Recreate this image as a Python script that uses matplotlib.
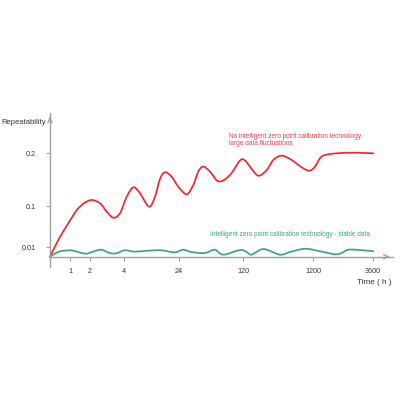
import numpy as np
import matplotlib
matplotlib.use("Agg")
import matplotlib.pyplot as plt
from matplotlib.path import Path
from matplotlib.patches import PathPatch

# time (h) and repeatability
red_t = [0, 0.415, 0.915, 1.415, 2.0, 2.583, 2.974, 3.359, 3.749, 4.88, 7.29,
         9.74, 13.03, 15.22, 17.05, 18.88, 21.33, 23.74, 35.5, 45.35,
         52.8, 60.3, 70.3, 83.7, 100.1, 115.1, 146.2, 223.4, 351.5, 481, 583,
         712.5, 866.8, 1021, 1138, 1268, 1468, 1668, 2136, 2800, 3600]
red_v = [0, 0.0254, 0.0620, 0.0949, 0.1109, 0.1051, 0.0875, 0.0743, 0.0840,
         0.1175, 0.1353, 0.1240, 0.0985, 0.1175, 0.1509, 0.1636,
         0.1553, 0.1364, 0.1221, 0.1396, 0.1647, 0.1745, 0.1647, 0.1462,
         0.1585, 0.1859, 0.1859, 0.1742, 0.1572, 0.1679, 0.1868, 0.1949,
         0.1868, 0.1730, 0.1666, 0.1742, 0.1900, 0.1962, 0.1994, 0.2006, 0.1994]

green_t = [0, 0.40, 0.70, 1.065, 1.40, 1.815, 2.175, 2.659, 3.149, 3.534, 4.15,
           7.80, 12.66, 17.53, 22.43, 29.97, 42.4, 62.4, 77.3, 90.1, 115.1,
           172.5, 249.6, 428.6, 686.3, 840.6, 1072, 1468, 2068, 2336, 2600,
           3068, 3600]
green_v = [0, 0.00485, 0.0061, 0.0066, 0.00485, 0.0031, 0.0052, 0.0072, 0.0038,
           0.0035, 0.0066, 0.0052, 0.0062, 0.0066, 0.0045, 0.0072, 0.00485,
           0.0038, 0.0072, 0.0021, 0.0069, 0.00485, 0.0021, 0.0079, 0.0021,
           0.00485, 0.0082, 0.0056, 0.0025, 0.0038, 0.0072, 0.0069, 0.0056]

x_ticks = [1, 2, 4, 24, 120, 1200, 3600]
y_ticks = [0.01, 0.1, 0.2]
y_labels = ["0.01", "0.1", "0.2"]

# the axes of the original are not proportional: piecewise anchors
X_ANCHOR_H = [0, 1, 2, 4, 24, 120, 1200, 3600, 4400]
X_ANCHOR_P = [0, 20, 40, 74.3, 129, 193.3, 263.3, 323.3, 343]
Y_ANCHOR_V = [-0.0103, 0, 0.01, 0.1, 0.2, 0.275]
Y_ANCHOR_P = [-10, 0, 9.7, 50.7, 103.7, 143.4]

RED = "#f5262b"
RED_TXT = "#e8404b"
GREEN = "#3aa67c"
AXC = "#a0a0a0"


def fx(h):
    return np.interp(h, X_ANCHOR_H, X_ANCHOR_P)


def fx_inv(p):
    return np.interp(p, X_ANCHOR_P, X_ANCHOR_H)


def fy(v):
    return np.interp(v, Y_ANCHOR_V, Y_ANCHOR_P)


def fy_inv(p):
    return np.interp(p, Y_ANCHOR_P, Y_ANCHOR_V)


def smooth_path(t, v):
    # Catmull-Rom through the read points, built in scaled coordinates
    p = np.column_stack([fx(np.asarray(t, float)), fy(np.asarray(v, float))])
    ext = np.vstack([p[0], p, p[-1]])
    verts = [p[0]]
    codes = [Path.MOVETO]
    for i in range(len(p) - 1):
        p0, p1, p2, p3 = ext[i], ext[i + 1], ext[i + 2], ext[i + 3]
        verts += [p1 + (p2 - p0) / 6, p2 - (p3 - p1) / 6, p2]
        codes += [Path.CURVE4] * 3
    return Path(verts, codes)


plt.rcParams["font.family"] = ["Liberation Sans", "DejaVu Sans"]

fig = plt.figure(figsize=(4, 4), dpi=100)
ax = fig.add_axes([0.125, 0.33325, 0.8575, 0.3835])

ax.set_xscale("function", functions=(fx, fx_inv))
ax.set_yscale("function", functions=(fy, fy_inv))
ax.set_xlim(0, 4400)
ax.set_ylim(-0.0103, 0.275)

scaled = ax.transLimits + ax.transAxes
for t, v, c in ((red_t, red_v, RED), (green_t, green_v, GREEN)):
    ax.add_patch(PathPatch(smooth_path(t, v), transform=scaled, fill=False,
                           edgecolor=c, lw=1.25, capstyle="round",
                           joinstyle="round", clip_on=False))

for s in ("top", "right"):
    ax.spines[s].set_visible(False)
ax.spines["bottom"].set_position(("data", 0))
for s in ("left", "bottom"):
    ax.spines[s].set_color(AXC)
    ax.spines[s].set_linewidth(1.0)

ax.set_xticks(x_ticks)
ax.set_xticklabels([str(t) for t in x_ticks])
ax.set_yticks(y_ticks)
ax.set_yticklabels(y_labels)
ax.xaxis.set_minor_locator(matplotlib.ticker.NullLocator())
ax.yaxis.set_minor_locator(matplotlib.ticker.NullLocator())
ax.tick_params(axis="x", length=3, width=0.8, color=AXC, pad=5, labelsize=5.2,
               labelcolor="#333333")
ax.tick_params(axis="y", length=3, width=0.8, color=AXC, pad=7, labelsize=5.2,
               labelcolor="#333333")

# arrow heads at the ends of the axes
ax.annotate("", xy=(1.0, 0), xytext=(0.97, 0), xycoords=ax.get_yaxis_transform(),
            arrowprops=dict(arrowstyle="->,head_length=0.35,head_width=0.15",
                            color=AXC, lw=1.0))
ax.annotate("", xy=(0, 1.0), xytext=(0, 0.95), xycoords=ax.get_xaxis_transform(),
            arrowprops=dict(arrowstyle="->,head_length=0.35,head_width=0.15",
                            color=AXC, lw=1.0))

fig.text(0.004, 1 - 122 / 400, "Repeatability", ha="left", va="center",
         fontsize=5.5, color="#333333")
fig.text(0.892, 1 - 283 / 400, "Time ( h )", ha="left", va="center",
         fontsize=5.9, color="#333333")
fig.text(229 / 400, 1 - 140 / 400,
         "No intelligent zero point calibration technology\nlarge data fluctuations",
         ha="left", va="center", fontsize=4.7, color=RED_TXT, linespacing=1.15)
fig.text(210 / 400, 1 - 235 / 400,
         "Intelligent zero point calibration technology - stable data",
         ha="left", va="center", fontsize=4.7, color=GREEN)

fig.savefig("out.png", dpi=100)
